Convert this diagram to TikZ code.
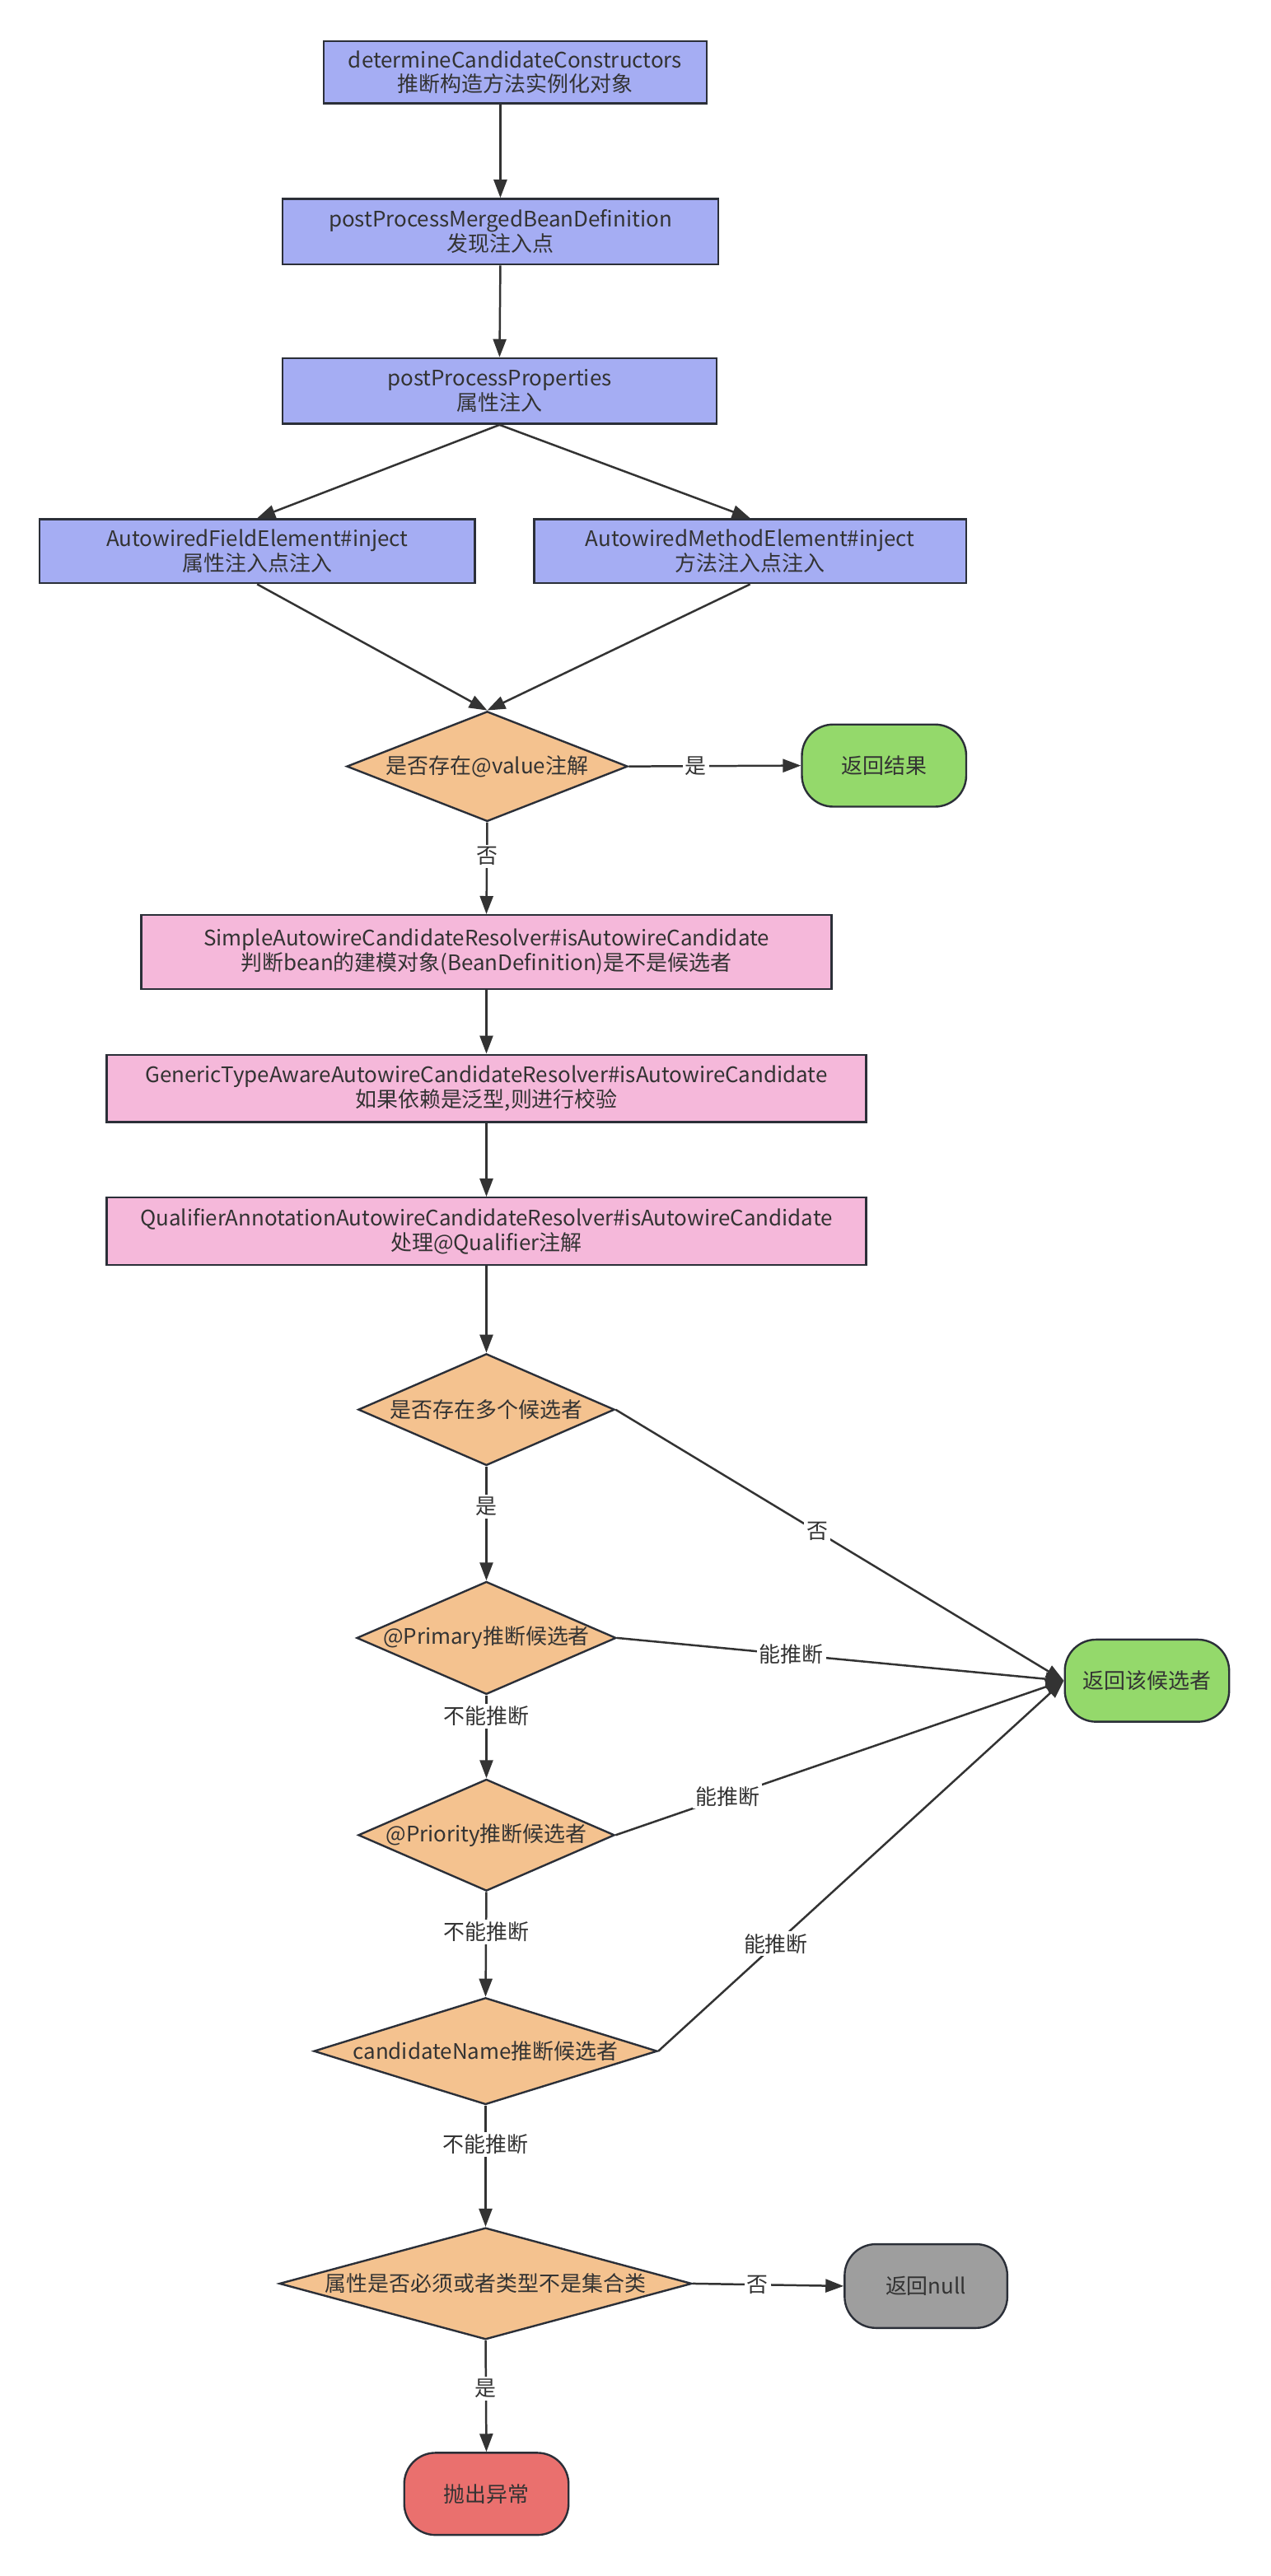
\documentclass[tikz,border=0pt]{standalone}
\usepackage{fontspec}
\setmainfont{Noto Sans CJK SC}
\usetikzlibrary{shapes.geometric,arrows.meta}

\definecolor{bordo}{HTML}{2B2F38}
\definecolor{linea}{HTML}{333333}
\definecolor{blu}{HTML}{A5ADF3}
\definecolor{rosa}{HTML}{F5B8DA}
\definecolor{arancio}{HTML}{F4C28F}
\definecolor{verde}{HTML}{94D96B}
\definecolor{grigio}{HTML}{9E9E9E}
\definecolor{rosso}{HTML}{EA706E}

\tikzset{
  every node/.style={font=\fontsize{13}{15}\selectfont, text=linea},
  blocco/.style={draw=bordo, line width=1.2pt, align=center, inner sep=0pt},
  rombo/.style={diamond, draw=bordo, fill=arancio, line width=1.2pt, inner sep=0pt},
  termine/.style={draw=bordo, line width=1.2pt, rounded corners=19pt,
    minimum width=100pt, minimum height=50pt},
  freccia/.style={draw=linea, line width=1.25pt, -{Triangle[length=11pt,width=8pt]}},
  etich/.style={fill=white, inner sep=1.5pt}
}

\begin{document}
\begin{tikzpicture}[x=1pt,y=-1pt]
\useasboundingbox (0,0) rectangle (773,1568);

% blocchi iniziali
\node[blocco, fill=blu, minimum width=233pt, minimum height=38pt] (b1) at (313.5,44)
  {determineCandidateConstructors\\推断构造方法实例化对象};
\node[blocco, fill=blu, minimum width=265pt, minimum height=40pt] (b2) at (304.5,141)
  {postProcessMergedBeanDefinition\\发现注入点};
\node[blocco, fill=blu, minimum width=264pt, minimum height=40pt] (b3) at (304,238)
  {postProcessProperties\\属性注入};
\node[blocco, fill=blu, minimum width=265pt, minimum height=39pt] (b4) at (156.5,335.5)
  {AutowiredFieldElement\#inject\\属性注入点注入};
\node[blocco, fill=blu, minimum width=263pt, minimum height=39pt] (b5) at (456.5,335.5)
  {AutowiredMethodElement\#inject\\方法注入点注入};

% @value
\node[rombo, minimum width=171pt, minimum height=67pt, aspect=2.55] (d1) at (296.5,466.5)
  {是否存在@value注解};
\node[termine, fill=verde] (t1) at (538,466) {返回结果};

% resolver
\node[blocco, fill=rosa, minimum width=420pt, minimum height=45pt] (b6) at (296,579.5)
  {SimpleAutowireCandidateResolver\#isAutowireCandidate\\判断bean的建模对象(BeanDefinition)是不是候选者};
\node[blocco, fill=rosa, minimum width=462pt, minimum height=41pt] (b7) at (296,662.5)
  {GenericTypeAwareAutowireCandidateResolver\#isAutowireCandidate\\如果依赖是泛型,则进行校验};
\node[blocco, fill=rosa, minimum width=462pt, minimum height=41pt] (b8) at (296,749.5)
  {QualifierAnnotationAutowireCandidateResolver\#isAutowireCandidate\\处理@Qualifier注解};

% scelta del candidato
\node[rombo, minimum width=156pt, minimum height=68pt, aspect=2.3] (d2) at (296,858)
  {是否存在多个候选者};
\node[rombo, minimum width=156pt, minimum height=68pt, aspect=2.3] (d3) at (296,997)
  {@Primary推断候选者};
\node[rombo, minimum width=156pt, minimum height=68pt, aspect=2.3] (d4) at (296,1117)
  {@Priority推断候选者};
\node[rombo, minimum width=209pt, minimum height=65pt, aspect=3.2] (d5) at (295.5,1248.5)
  {candidateName推断候选者};
\node[rombo, minimum width=251pt, minimum height=68pt, aspect=3.7] (d6) at (295.5,1390)
  {属性是否必须或者类型不是集合类};

\node[termine, fill=verde] (tg) at (698,1023) {返回该候选者};
\node[termine, fill=grigio, minimum width=99pt, minimum height=51pt] (tn) at (563.5,1391.5) {返回null};
\node[termine, fill=rosso] (tr) at (296,1518) {抛出异常};

% frecce
\draw[freccia] (b1.south -| b2.north) -- (b2.north);
\draw[freccia] (b2.south) -- (b3.north);
\draw[freccia] (b3.south) -- (b4.north);
\draw[freccia] (b3.south) -- (b5.north);
\draw[freccia] (b4.south) -- (d1.north);
\draw[freccia] (b5.south) -- (d1.north);
\draw[freccia] (d1.east) -- node[etich, pos=0.39] {是} (t1.west);
\draw[freccia] (d1.south) -- node[etich, pos=0.37] {否} (b6.north);
\draw[freccia] (b6.south) -- (b7.north);
\draw[freccia] (b7.south) -- (b8.north);
\draw[freccia] (b8.south) -- (d2.north);

\draw[freccia] (d2.south) -- node[etich, pos=0.35] {是} (d3.north);
\draw[freccia] (d2.east) -- node[etich, pos=0.45] {否} (tg.west);
\draw[freccia] (d3.east) -- node[etich, pos=0.39] {能推断} (tg.west);
\draw[freccia] (d3.south) -- node[etich, pos=0.25] {不能推断} (d4.north);
\draw[freccia] (d4.east) -- node[etich, pos=0.25] {能推断} (tg.west);
\draw[freccia] (d4.south) -- node[etich, pos=0.38] {不能推断} (d5.north);
\draw[freccia] (d5.east) -- node[etich, pos=0.29] {能推断} (tg.west);
\draw[freccia] (d5.south) -- node[etich, pos=0.32] {不能推断} (d6.north);
\draw[freccia] (d6.east) -- node[etich, pos=0.43] {否} (tn.west);
\draw[freccia] (d6.south) -- node[etich, pos=0.43] {是} (tr.north);

\end{tikzpicture}
\end{document}
